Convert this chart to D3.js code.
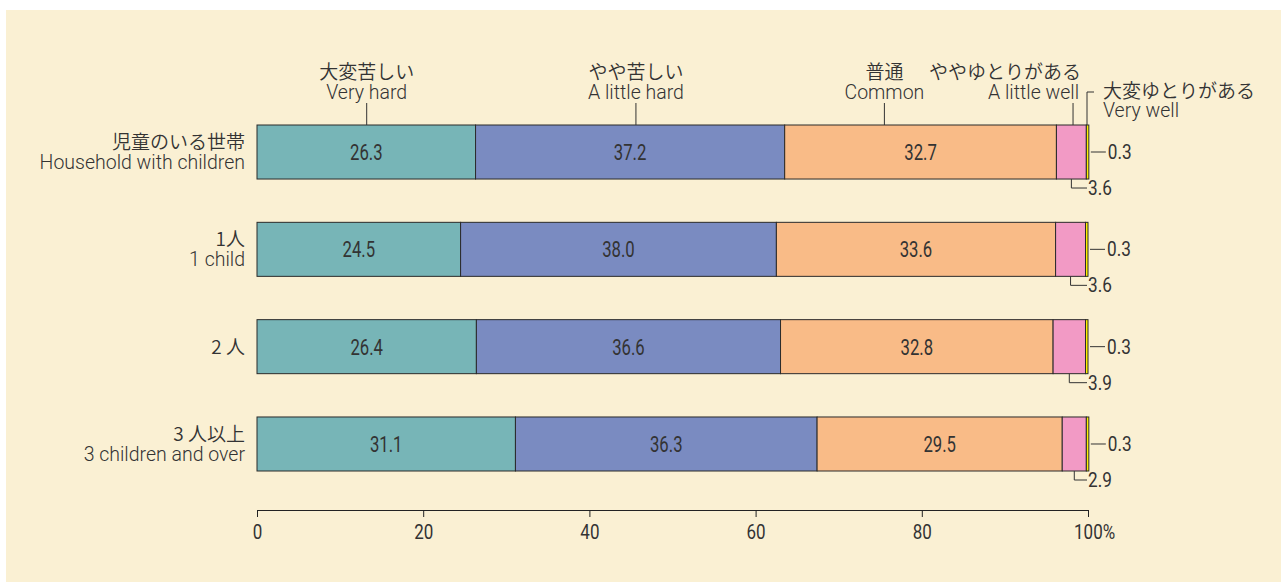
<!DOCTYPE html>
<html>
<head>
<meta charset="utf-8">
<script src="https://cdn.jsdelivr.net/npm/d3@7"></script>
<style>
  body { margin: 0; background: #fff; }
  text { fill: #333; }
  .lat { font-family: Roboto, "Liberation Sans", Arial, sans-serif; font-weight: 300; }
  .num { font-family: Roboto, "Liberation Sans", Arial, sans-serif; font-weight: 400; }
  .jp { font-family: "Noto Sans CJK JP", sans-serif; font-weight: 350; }
  .axis path, .axis line { stroke: #222; }
</style>
</head>
<body>
<div id="chart"></div>
<script>
// data
var categoriesJa = ['児童のいる世帯', '1人', '2 人', '3 人以上']
var categoriesEn = ['Household with children', '1 child', '', '3 children and over']

var veryHard   = [26.3, 24.5, 26.4, 31.1]
var littleHard = [37.2, 38.0, 36.6, 36.3]
var common     = [32.7, 33.6, 32.8, 29.5]
var littleWell = [3.6, 3.6, 3.9, 2.9]
var veryWell   = [0.3, 0.3, 0.3, 0.3]

var seriesJa = ['大変苦しい', 'やや苦しい', '普通', 'ややゆとりがある', '大変ゆとりがある']
var seriesEn = ['Very hard', 'A little hard', 'Common', 'A little well', 'Very well']
// where the top labels point to, in % along the first bar
var labelAt  = [13.2, 45.6, 75.5, 98.2, 100]

var tickValues = [0, 20, 40, 60, 80, 100]

var colors = ['#77b5b7', '#7a8bc1', '#f9bb87', '#f29ac5', '#fff100']

var width = 1281, height = 584

var svg = d3.select('#chart').append('svg')
    .attr('width', width)
    .attr('height', height)

svg.append('rect')
    .attr('x', 6).attr('y', 10)
    .attr('width', width - 6).attr('height', height - 12)
    .attr('fill', '#faf0d3')

var xScale = d3.scaleLinear()
    .domain([0, 100])
    .range([257, 1088])

var yScale = d3.scaleBand()
    .domain(d3.range(categoriesJa.length))
    .range([125, 471])
    .paddingInner(0.445)
    .paddingOuter(0)

// narrow number text: draw at origin then squeeze
function narrowText(g, x, y, sx, size, txt, anchor) {
    return g.append('text')
        .attr('class', 'num')
        .attr('transform', 'translate(' + x + ',' + y + ') scale(' + sx + ',1)')
        .attr('text-anchor', anchor || 'start')
        .attr('font-size', size)
        .text(txt)
}

var table = categoriesJa.map(function(c, i) {
    var vals = [veryHard[i], littleHard[i], common[i], littleWell[i], veryWell[i]]
    var start = 0
    return vals.map(function(v, k) {
        var seg = {row: i, k: k, v: v, x0: start, x1: start + v}
        start += v
        return seg
    })
})

var segs = d3.merge(table)

// bars
svg.append('g').selectAll('rect')
    .data(segs).enter()
    .append('rect')
    .attr('x', function(d) { return xScale(d.x0) })
    .attr('y', function(d) { return yScale(d.row) })
    .attr('width', function(d) { return xScale(d.x1) - xScale(d.x0) })
    .attr('height', yScale.bandwidth())
    .attr('fill', function(d) { return colors[d.k] })
    .attr('stroke', '#2a2a2a')
    .attr('stroke-width', 1)

// values inside the big segments
var inBar = svg.append('g')
segs.filter(function(d) { return d.k < 3 }).forEach(function(d) {
    narrowText(inBar, xScale((d.x0 + d.x1) / 2), yScale(d.row) + yScale.bandwidth() / 2 + 8,
        0.76, 22, d.v.toFixed(1), 'middle')
})

// category labels
var cat = svg.append('g')
categoriesJa.forEach(function(c, i) {
    var cy = yScale(i) + yScale.bandwidth() / 2
    var two = categoriesEn[i] !== ''
    cat.append('text')
        .attr('class', 'jp')
        .attr('x', 245)
        .attr('y', two ? cy - 3 : cy + 7)
        .attr('text-anchor', 'end')
        .attr('font-size', 19)
        .text(c)
    if (two) {
        cat.append('text')
            .attr('class', 'lat')
            .attr('x', 245)
            .attr('y', cy + 17)
            .attr('text-anchor', 'end')
            .attr('font-size', 19.5)
            .text(categoriesEn[i])
    }
})

// right side small values
var side = svg.append('g')
table.forEach(function(row, i) {
    var top = yScale(i)
    var bot = top + yScale.bandwidth()
    var cy = top + yScale.bandwidth() / 2
    var vw = row[4], lw = row[3]
    side.append('line')
        .attr('x1', xScale(vw.x1) + 2).attr('x2', xScale(vw.x1) + 17)
        .attr('y1', cy).attr('y2', cy)
        .attr('stroke', '#333')
    narrowText(side, xScale(vw.x1) + 19, cy + 7, 0.86, 20, vw.v.toFixed(1))
        .attr('font-weight', 300)
    var mx = xScale((lw.x0 + lw.x1) / 2)
    side.append('path')
        .attr('d', 'M' + mx + ',' + bot + 'V' + (bot + 9) + 'H' + (xScale(100) - 1))
        .attr('fill', 'none')
        .attr('stroke', '#333')
    narrowText(side, xScale(100), bot + 16, 0.86, 20, lw.v.toFixed(1))
        .attr('font-weight', 300)
})

// top series labels
var top0 = yScale(0)
var lab = svg.append('g')
seriesJa.forEach(function(s, k) {
    var lx = xScale(labelAt[k])
    if (k < 3) {
        lab.append('text').attr('class', 'jp')
            .attr('x', lx).attr('y', 79)
            .attr('text-anchor', 'middle').attr('font-size', 19)
            .text(s)
        lab.append('text').attr('class', 'lat')
            .attr('x', lx).attr('y', 99)
            .attr('text-anchor', 'middle').attr('font-size', 19.5)
            .text(seriesEn[k])
        lab.append('line')
            .attr('x1', lx).attr('x2', lx)
            .attr('y1', 103).attr('y2', top0)
            .attr('stroke', '#333')
    } else if (k == 3) {
        lab.append('text').attr('class', 'jp')
            .attr('x', lx + 8).attr('y', 79)
            .attr('text-anchor', 'end').attr('font-size', 19)
            .text(s)
        lab.append('text').attr('class', 'lat')
            .attr('x', lx + 6).attr('y', 99)
            .attr('text-anchor', 'end').attr('font-size', 19.5)
            .text(seriesEn[k])
        lab.append('line')
            .attr('x1', lx).attr('x2', lx)
            .attr('y1', 103).attr('y2', top0)
            .attr('stroke', '#333')
    } else {
        lab.append('path')
            .attr('d', 'M' + (lx - 1) + ',' + top0 + 'V92H' + (lx + 6))
            .attr('fill', 'none')
            .attr('stroke', '#333')
        lab.append('text').attr('class', 'jp')
            .attr('x', lx + 15).attr('y', 98)
            .attr('font-size', 19)
            .text(s)
        lab.append('text').attr('class', 'lat')
            .attr('x', lx + 15).attr('y', 117)
            .attr('font-size', 19.5)
            .text(seriesEn[k])
    }
})

// x axis
var xAxis = d3.axisBottom(xScale)
    .tickValues(tickValues)
    .tickSize(7)
    .tickPadding(8)
    .tickSizeOuter(0)
    .tickFormat(function(d) { return d == 100 ? '100%' : d })

var ax = svg.append('g')
    .attr('class', 'axis')
    .attr('transform', 'translate(0,510)')
    .call(xAxis)

ax.selectAll('text')
    .attr('class', 'num')
    .attr('font-size', 20)
    .attr('font-weight', 300)
    .attr('transform', 'scale(0.85,1)')
    .style('fill', '#333')
ax.selectAll('text').filter(function(d) { return d == 100 })
    .attr('text-anchor', 'start')
    .attr('dx', -17)
ax.select('.domain').attr('stroke', '#222')
</script>
</body>
</html>
